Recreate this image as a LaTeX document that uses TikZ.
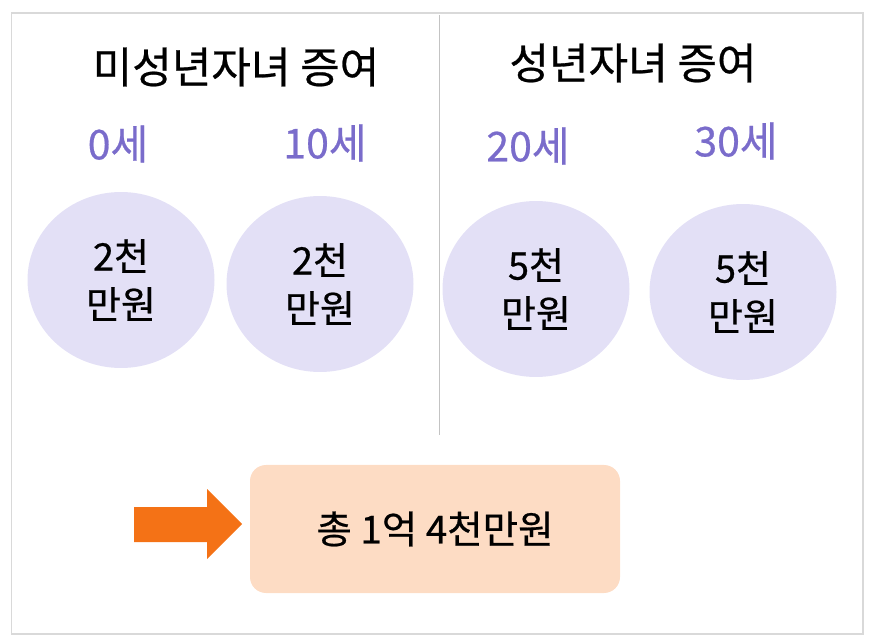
\documentclass[tikz,border=0pt]{standalone}
\usepackage{fontspec}
\setmainfont{Noto Sans CJK KR}[FakeBold=0.6]
\definecolor{agepurple}{HTML}{7A6CCB}
\definecolor{circlefill}{HTML}{E3E0F6}
\definecolor{totalfill}{HTML}{FDDCC4}
\definecolor{arroworange}{HTML}{F47216}
\definecolor{framegray}{HTML}{D9D9D9}
\usetikzlibrary{positioning,shapes.geometric}

\begin{document}
\begin{tikzpicture}[x=1pt, y=-1pt,
    title/.style={font=\fontsize{43}{48}\selectfont, text=black},
    age/.style={font=\fontsize{41}{46}\selectfont, text=agepurple},
    money/.style={ellipse, fill=circlefill, minimum width=187pt, minimum height=176pt,
                  align=center, font=\fontsize{38}{48}\selectfont},
    totalbox/.style={rounded corners=16pt, fill=totalfill,
                     minimum width=370pt, minimum height=128pt,
                     font=\fontsize{38.5}{44}\selectfont}
  ]
    \useasboundingbox (0,0) rectangle (871,644);

    % outer frame and divider
    \draw[framegray, line width=1.5pt] (11.5,13) rectangle (863,634);
    \draw[framegray!90!black, line width=0.8pt] (439,15) -- (439,435);

    % Minor children
    \node[title] (minor) at (236,67) {미성년자녀 증여};
    \node[age] (age0) at (118,144) {0세};
    \node[age] (age10) at (325,143) {10세};
    \node[money] (gift0) at (121,280) {2천\\만원};
    \node[money] (gift10) at (320,284) {2천\\만원};

    % Adult children
    \node[title] (adult) at (633,63) {성년자녀 증여};
    \node[age] (age20) at (528,146) {20세};
    \node[age] (age30) at (736,141) {30세};
    \node[money] (gift20) at (536,289) {5천\\만원};
    \node[money] (gift30) at (743,292) {5천\\만원};

    % Total
    \node[totalbox] (total) at (435,529) {총 1억 4천만원};
    \fill[arroworange] (134,507) -- (207,507) -- (207,489) -- (242,524)
      -- (207,559) -- (207,542) -- (134,542) -- cycle;
  \end{tikzpicture}
\end{document}
